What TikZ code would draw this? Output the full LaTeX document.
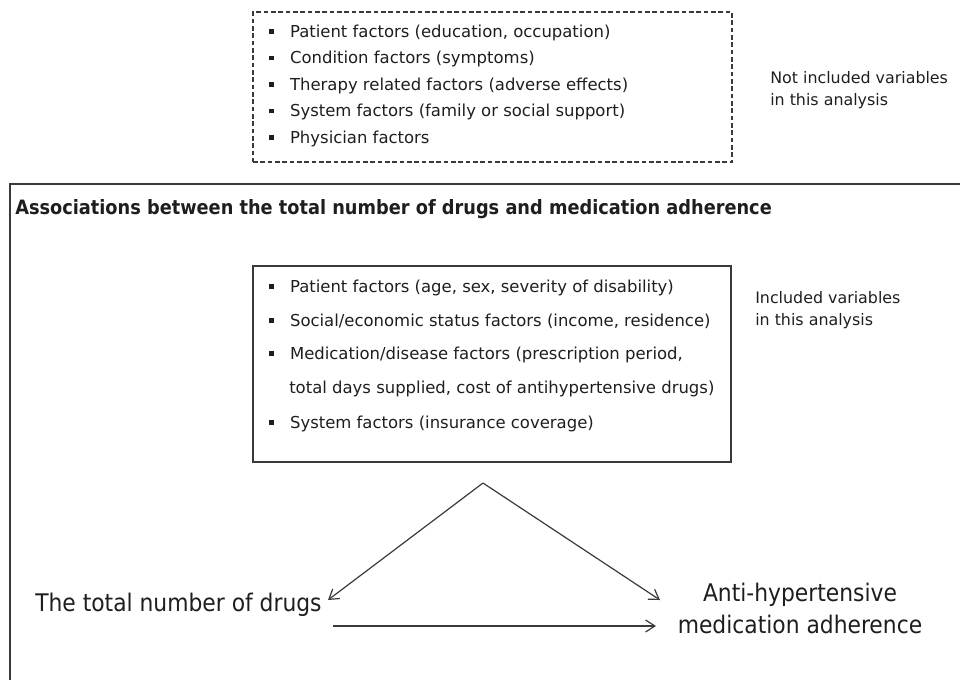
\documentclass[tikz,border=0pt]{standalone}
\usepackage{fontspec}
\setmainfont{DejaVu Sans}
\newfontfamily\condfont{DejaVu Sans Condensed}
\usetikzlibrary{arrows.meta}
\definecolor{txtcol}{HTML}{1E1E1E}
\definecolor{linecol}{HTML}{3A3A3A}
\newcommand\bulsq{\raisebox{2.6pt}{\rule{3.2pt}{3.4pt}}\hspace{12.4pt}}
\begin{document}
\begin{tikzpicture}[x=0.75pt,y=-0.75pt,
  txt/.style={anchor=base west, inner sep=0pt, text=txtcol, font=\fontsize{12.35}{14}\selectfont},
  frame/.style={draw=linecol, line width=0.9pt, inner sep=0pt},
  arr/.style={draw=linecol, line width=0.9pt, -{Straight Barb[length=7pt,width=9pt]}},
  big/.style={inner sep=0pt, text=txtcol, font=\condfont\fontsize{18.2}{24}\selectfont}]
\useasboundingbox (0,0) rectangle (960,679);
\clip (0,0) rectangle (960,679);
% top dashed box
\node[frame, dashed, dash pattern=on 3.5pt off 2pt, minimum width=359.25pt, minimum height=112.5pt] (notbox) at (492.5,87) {};
\node[txt] (n1) at (269,37)   {\bulsq Patient factors (education, occupation)};
\node[txt] (n2) at (269,63.6) {\bulsq Condition factors (symptoms)};
\node[txt] (n3) at (269,90.2) {\bulsq Therapy related factors (adverse effects)};
\node[txt] (n4) at (269,116.8){\bulsq System factors (family or social support)};
\node[txt] (n5) at (269,143.4){\bulsq Physician factors};
\node[txt, font=\fontsize{11.9}{14}\selectfont] (notlab1) at (770,83)  {Not included variables};
\node[txt, font=\fontsize{11.9}{14}\selectfont] (notlab2) at (770,105) {in this analysis};
% main frame
\coordinate (mfbl) at (10,700);
\coordinate (mftl) at (10,184);
\coordinate (mftr) at (980,184);
\draw[draw=linecol, line width=1.1pt] (mfbl) -- (mftl) -- (mftr);
\node[anchor=base west, inner sep=0pt, text=txtcol, font=\condfont\bfseries\fontsize{14.8}{17}\selectfont] (title) at (15,214)
  {Associations between the total number of drugs and medication adherence};
% inner box
\node[frame, minimum width=358.5pt, minimum height=147pt] (inbox) at (492,364) {};
\node[txt] (i1) at (269,292) {\bulsq Patient factors (age, sex, severity of disability)};
\node[txt] (i2) at (269,326) {\bulsq Social/economic status factors (income, residence)};
\node[txt] (i3) at (269,359) {\bulsq Medication/disease factors (prescription period,};
\node[txt] (i3b) at (289,393) {total days supplied, cost of antihypertensive drugs)};
\node[txt] (i4) at (269,428) {\bulsq System factors (insurance coverage)};
\node[txt, font=\fontsize{11.9}{14}\selectfont] (inlab1) at (755,303) {Included variables};
\node[txt, font=\fontsize{11.9}{14}\selectfont] (inlab2) at (755,325) {in this analysis};
% triangle
\node[big, anchor=base west] (drugs) at (35,611) {The total number of drugs};
\node[big, align=center] (adh) at (800,608) {Anti-hypertensive\\medication adherence};
\coordinate (apex) at (483,483);
\coordinate (tipL) at (328,600);
\coordinate (tipR) at (660,600);
\coordinate (botS) at (333,626);
\coordinate (botE) at (656,626);
\draw[arr] (apex) -- (tipL);
\draw[arr] (apex) -- (tipR);
\draw[arr] (botS) -- (botE);
\end{tikzpicture}
\end{document}
